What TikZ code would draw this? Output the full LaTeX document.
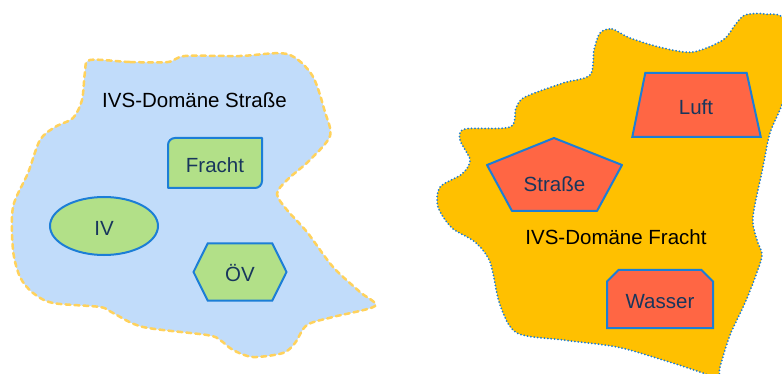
\documentclass[tikz,border=0pt]{standalone}
\usepackage{fontspec}
\setmainfont{Liberation Sans}
\usetikzlibrary{shapes.geometric,shapes.misc,shapes.symbols,calc}

\definecolor{skyfill}{RGB}{193,220,250}
\definecolor{sandline}{RGB}{255,210,92}
\definecolor{ambfill}{RGB}{255,192,0}
\definecolor{leaf}{RGB}{178,224,136}
\definecolor{coral}{RGB}{255,102,68}
\definecolor{edgeblue}{RGB}{28,126,214}
\definecolor{navy}{RGB}{24,54,92}

\tikzset{
  mode/.style={draw=edgeblue, line width=2pt, text=navy, inner sep=0pt,
    font=\fontsize{20.5}{24}\selectfont, text height=19pt, text depth=0pt},
  lbl/.style={text=navy, font=\fontsize{20.5}{24}\selectfont},
  shapeline/.style={draw=edgeblue, line width=2pt, line join=round},
  title/.style={font=\fontsize{20.5}{24}\selectfont, anchor=base},
}

\begin{document}
\begin{tikzpicture}[x=1pt,y=-1pt]
  \useasboundingbox (0,0) rectangle (782,374);
  \clip (0,0) rectangle (782,374);

  % domain road
  \filldraw[fill=skyfill, draw=sandline, line width=2.5pt,
    dash pattern=on 5pt off 4pt, line cap=round]
    plot[smooth cycle, tension=0.5] coordinates {
      (90,60) (130,62) (168,62) (185,56) (240,56) (287,54) (312,75)
      (325,112) (330,136) (310,160) (287,180) (277,194) (287,210)
      (307,232) (333,267) (360,292) (375,306) (333,317) (307,325)
      (295,343) (283,353) (253,357) (233,350) (220,340) (207,335)
      (143,327) (113,313) (100,307) (53,303) (33,293) (20,277)
      (13,250) (13,207) (28,173) (40,140) (55,127) (73,118) (82,100)
      (85,72)};

  % domain freight
  \filldraw[fill=ambfill, draw=edgeblue, line width=2pt,
    dash pattern=on 0pt off 3.4pt, line cap=round]
    plot[smooth cycle, tension=0.5] coordinates {
      (600,33) (612,29) (630,38) (663,48) (693,52) (723,40) (735,25)
      (745,15) (765,14) (785,22) (786,90) (770,133) (763,167)
      (753,217) (757,240) (762,255) (756,275) (745,303) (730,335)
      (720,367) (718,378) (700,372) (663,360) (617,347) (563,340)
      (517,333) (500,305) (490,262) (475,242) (452,228) (438,207)
      (440,187) (462,174) (470,160) (460,140) (465,129) (510,127)
      (516,108) (525,97) (563,83) (590,75) (594,50)};

  \node[title] (road) at (194.5,107.3) {IVS-Domäne Straße};
  \node[title] (freight) at (616,245) {IVS-Domäne Fracht};

  % modes of the road domain
  \coordinate (frc) at (215,163);
  \filldraw[shapeline, fill=leaf]
    ($(frc)+(-47,25)$) -- ($(frc)+(-47,-18)$)
    arc[start angle=180, end angle=90, radius=7pt]
    -- ($(frc)+(47,-25)$) -- ($(frc)+(47,18)$)
    arc[start angle=0, end angle=-90, radius=7pt] -- cycle;
  \node[lbl] (fr) at (215,165) {Fracht};

  \node[mode, ellipse, fill=leaf, minimum width=108pt, minimum height=58pt]
    (iv) at (104,226) {IV};
  \node[mode, signal, signal to=east and west, signal pointer angle=127,
    fill=leaf, minimum width=93pt, minimum height=57pt]
    (oev) at (240,272) {ÖV};

  % modes of the freight domain
  \node[mode, trapezium, trapezium left angle=77, trapezium right angle=76,
    trapezium stretches=true, fill=coral, minimum width=129pt,
    minimum height=64pt] (luft) at (696,105) {Luft};

  \coordinate (stc) at (554,176);
  \filldraw[shapeline, fill=coral]
    ($(stc)+(0,-38)$) -- ($(stc)+(68,-11)$) -- ($(stc)+(43,35)$)
    -- ($(stc)+(-42,35)$) -- ($(stc)+(-67,-11)$) -- cycle;
  \node[lbl] (str) at (554.5,184) {Straße};

  \node[mode, chamfered rectangle, chamfered rectangle corners={north west,north east},
    chamfered rectangle xsep=8pt, fill=coral, minimum width=106pt,
    minimum height=58pt] (wasser) at (660,299) {Wasser};
\end{tikzpicture}
\end{document}
